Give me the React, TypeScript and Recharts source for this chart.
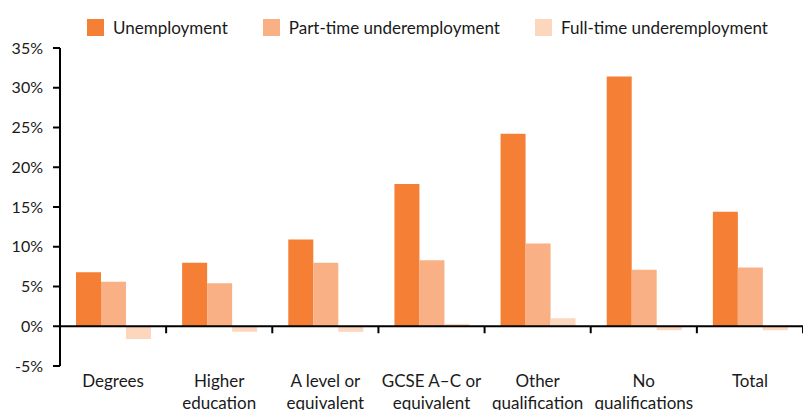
import React from 'react';
import { BarChart, Bar, XAxis, YAxis, Legend, ReferenceLine } from 'recharts';

const categories = [
  'Degrees',
  'Higher\neducation',
  'A level or\nequivalent',
  'GCSE A\u2013C or\nequivalent',
  'Other\nqualification',
  'No\nqualifications',
  'Total',
];
const unemployment = [6.8, 8.0, 10.9, 17.9, 24.2, 31.4, 14.4];
const partTime = [5.6, 5.4, 8.0, 8.3, 10.4, 7.1, 7.4];
const fullTime = [-1.6, -0.7, -0.7, 0.3, 1.0, -0.5, -0.5];
const yTicks = [-5, 0, 5, 10, 15, 20, 25, 30, 35];

const SERIES = [
  { key: 'unemployment', name: 'Unemployment', color: '#F47F35' },
  { key: 'partTime', name: 'Part-time underemployment', color: '#F9B084' },
  { key: 'fullTime', name: 'Full-time underemployment', color: '#FCD6BD' },
];

const data = categories.map((c, i) => ({
  category: c,
  unemployment: unemployment[i],
  partTime: partTime[i],
  fullTime: fullTime[i],
}));

const FONT = 'Lato, "Open Sans", sans-serif';

function CategoryTick({ x, y, payload }: any) {
  const lines = String(payload.value).split('\n');
  return (
    <text x={x} y={y} textAnchor="middle" fill="#1a1a1a" fontSize={17} fontFamily={FONT}>
      {lines.map((l, i) => (
        <tspan key={i} x={x} dy={i === 0 ? 21 : 21.5}>
          {l}
        </tspan>
      ))}
    </text>
  );
}

// zero line with small tick marks at the category boundaries
function ZeroLine({ x1, y1, x2 }: any) {
  const step = (x2 - x1) / categories.length;
  return (
    <g>
      <line x1={x1} y1={y1} x2={x2} y2={y1} stroke="#000" strokeWidth={2} />
      {categories.map((_, i) => (
        <line key={i} x1={x1 + step * (i + 1)} y1={y1} x2={x1 + step * (i + 1)} y2={y1 + 7} stroke="#000" strokeWidth={2} />
      ))}
    </g>
  );
}

function LegendContent() {
  return (
    <div style={{ display: 'flex', alignItems: 'center', height: 48, paddingLeft: 87, paddingTop: 7, boxSizing: 'border-box' }}>
      {SERIES.map((s) => (
        <div key={s.key} style={{ display: 'flex', alignItems: 'center', marginRight: 35 }}>
          <span style={{ width: 17, height: 17, background: s.color, display: 'inline-block', marginRight: 9 }} />
          <span style={{ fontSize: 17, fontFamily: FONT, color: '#1a1a1a' }}>{s.name}</span>
        </div>
      ))}
    </div>
  );
}

export default function App() {
  return (
    <div style={{ position: 'absolute', left: 0, top: 0, background: '#fff' }}>
      <BarChart
        width={803}
        height={410}
        data={data}
        margin={{ top: 0, right: 0, bottom: 0, left: 0 }}
        barGap={0}
        barSize={25}
      >
        <Legend
          verticalAlign="top"
          align="left"
          height={48}
          wrapperStyle={{ left: 0, top: 0, width: 803 }}
          content={<LegendContent />}
        />
        <XAxis
          dataKey="category"
          axisLine={false}
          tickLine={false}
          tickSize={0}
          tickMargin={0}
          height={44}
          interval={0}
          tick={<CategoryTick />}
        />
        <YAxis
          domain={[-5, 35]}
          ticks={yTicks}
          width={60}
          tickFormatter={(v) => `${v}%`}
          axisLine={{ stroke: '#000', strokeWidth: 2 }}
          tickLine={{ stroke: '#000', strokeWidth: 2 }}
          tickSize={7}
          tickMargin={10}
          tick={{ fill: '#1a1a1a', fontSize: 16, fontFamily: FONT }}
          allowDataOverflow
        />
        {SERIES.map((s) => (
          <Bar key={s.key} dataKey={s.key} name={s.name} fill={s.color} isAnimationActive={false} />
        ))}
        <ReferenceLine y={0} shape={<ZeroLine />} />
      </BarChart>
    </div>
  );
}
